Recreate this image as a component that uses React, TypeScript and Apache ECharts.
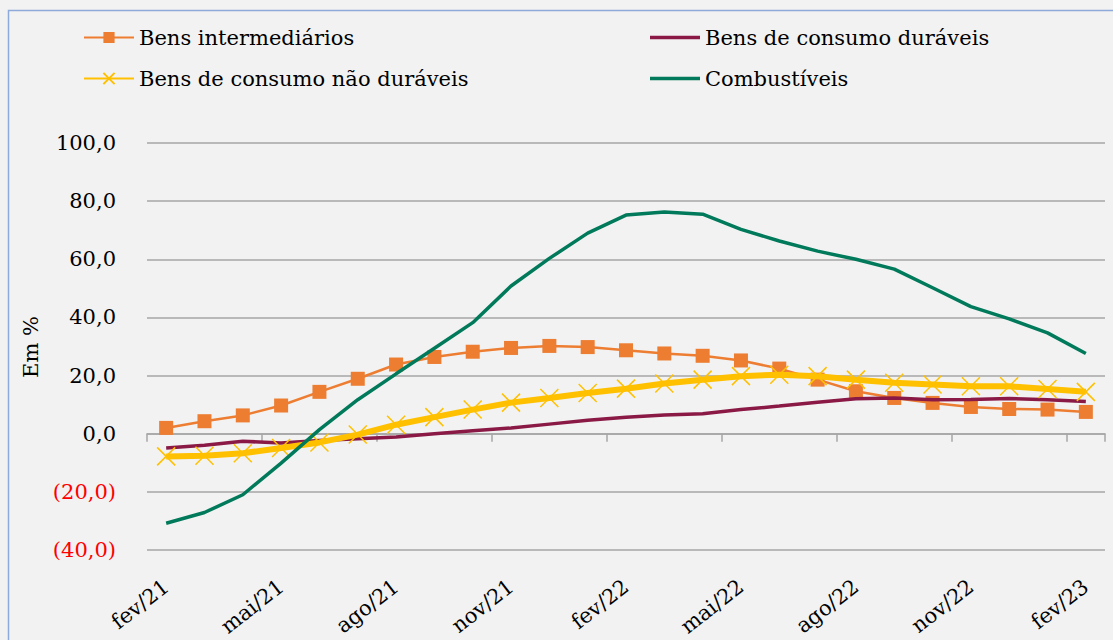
import React, { useEffect, useRef } from "react";
import * as echarts from "echarts";

const categories = [
  "fev/21", "mar/21", "abr/21", "mai/21", "jun/21", "jul/21", "ago/21", "set/21", "out/21",
  "nov/21", "dez/21", "jan/22", "fev/22", "mar/22", "abr/22", "mai/22", "jun/22", "jul/22",
  "ago/22", "set/22", "out/22", "nov/22", "dez/22", "jan/23", "fev/23",
];

const intermediarios = [2.0, 4.3, 6.3, 9.7, 14.4, 18.9, 23.8, 26.4, 28.2, 29.5, 30.2, 29.8, 28.7, 27.6, 26.8, 25.2, 22.4, 18.6, 14.6, 12.3, 10.6, 9.2, 8.5, 8.3, 7.5];
const duraveis = [-4.9, -4.0, -2.6, -3.2, -2.3, -1.7, -1.1, 0.0, 1.0, 2.0, 3.3, 4.6, 5.7, 6.4, 6.9, 8.3, 9.5, 10.8, 12.0, 12.3, 11.7, 11.8, 12.1, 11.7, 11.1];
const naoDuraveis = [-7.8, -7.6, -6.7, -4.9, -3.0, -0.3, 3.1, 5.7, 8.3, 10.7, 12.3, 14.0, 15.5, 17.3, 18.6, 19.8, 20.3, 19.8, 18.6, 17.5, 16.9, 16.3, 16.3, 15.4, 14.4];
const combustiveis = [-30.8, -27.1, -21.0, -10.1, 1.4, 11.7, 20.6, 29.4, 38.2, 50.8, 60.3, 69.0, 75.2, 76.3, 75.5, 70.3, 66.3, 62.8, 60.0, 56.6, 50.2, 43.7, 39.5, 34.7, 27.6];

const seriesNames = [
  "Bens intermediários",
  "Bens de consumo duráveis",
  "Bens de consumo não duráveis",
  "Combustíveis",
];

const FONT = "DejaVu Serif";

function fmt(v: number): string {
  const s = Math.abs(v).toFixed(1).replace(".", ",");
  return v < 0 ? `(${s})` : s;
}

export default function App() {
  const ref = useRef<HTMLDivElement>(null);
  useEffect(() => {
    if (!ref.current) return;
    const chart = echarts.init(ref.current, null, { renderer: "svg" });
    const legendBase = {
      orient: "horizontal" as const,
      itemWidth: 50,
      itemHeight: 14,
      itemGap: 0,
      padding: 0,
      textStyle: { fontFamily: FONT, fontSize: 21, color: "#000", padding: [0, 0, 0, 0] },
      selectedMode: false,
    };
    chart.setOption({
      animation: false,
      backgroundColor: "transparent",
      textStyle: { fontFamily: FONT },
      grid: { left: 147, right: 8, top: 143, bottom: 90, containLabel: false, outerBoundsMode: "none" },
      legend: [
        { ...legendBase, left: 83, top: 27, data: [seriesNames[0]] },
        { ...legendBase, left: 650, top: 27, itemHeight: 3.5, icon: "rect", data: [seriesNames[1]] },
        { ...legendBase, left: 83, top: 68, data: [seriesNames[2]] },
        { ...legendBase, left: 650, top: 68, itemHeight: 3.5, icon: "rect", data: [seriesNames[3]] },
      ],
      graphic: [
        {
          type: "rect",
          shape: { x: 8.5, y: 10.5, width: 1200, height: 800 },
          style: { fill: "none", stroke: "#8EAADB", lineWidth: 1.5 },
          silent: true,
        },
        {
          type: "text",
          x: 31,
          y: 347,
          rotation: Math.PI / 2,
          style: {
            text: "Em %",
            fontFamily: FONT,
            fontSize: 21,
            fill: "#000",
            align: "center",
            verticalAlign: "middle",
          },
        },
      ],
      xAxis: {
        type: "category",
        data: categories,
        boundaryGap: true,
        axisLine: { onZero: true, lineStyle: { color: "#a6a6a6", width: 1.5 } },
        axisTick: { show: true, interval: 2, length: 8, lineStyle: { color: "#a6a6a6", width: 1.5 } },
        axisLabel: {
          interval: 2,
          rotate: 38,
          margin: 34,
          fontFamily: FONT,
          fontSize: 21,
          color: "#000",
        },
        splitLine: { show: false },
      },
      yAxis: {
        type: "value",
        min: -40,
        max: 100,
        interval: 20,
        axisLine: { show: false },
        axisTick: { show: false },
        axisLabel: {
          margin: 31,
          fontFamily: FONT,
          fontSize: 21,
          formatter: (v: number) => fmt(v),
          color: (v: any) => (Number(v) < 0 ? "#FF0000" : "#000"),
        },
        splitLine: { show: true, lineStyle: { color: "#a6a6a6", width: 1.5 } },
      },
      series: [
        {
          name: seriesNames[0],
          type: "line",
          data: intermediarios,
          symbol: "rect",
          symbolSize: 14,
          lineStyle: { color: "#ED7D31", width: 2.5 },
          itemStyle: { color: "#ED7D31" },
          z: 2,
        },
        {
          name: seriesNames[1],
          type: "line",
          data: duraveis,
          symbol: "none",
          lineStyle: { color: "#8A1A45", width: 3.5 },
          itemStyle: { color: "#8A1A45" },
          z: 3,
        },
        {
          name: seriesNames[2],
          type: "line",
          data: naoDuraveis,
          symbol: "path://M0,0L10,10M10,0L0,10",
          symbolSize: 18,
          lineStyle: { color: "#FFC000", width: 6 },
          itemStyle: { color: "#FFC000", borderColor: "#FFC000", borderWidth: 1.5 },
          z: 4,
        },
        {
          name: seriesNames[3],
          type: "line",
          data: combustiveis,
          symbol: "none",
          lineStyle: { color: "#007A5A", width: 3.5 },
          itemStyle: { color: "#007A5A" },
          z: 5,
        },
      ],
    });
    return () => chart.dispose();
  }, []);
  return (
    <div
      ref={ref}
      style={{ position: "absolute", left: 0, top: 0, width: 1113, height: 640, background: "#f2f2f2" }}
    />
  );
}
